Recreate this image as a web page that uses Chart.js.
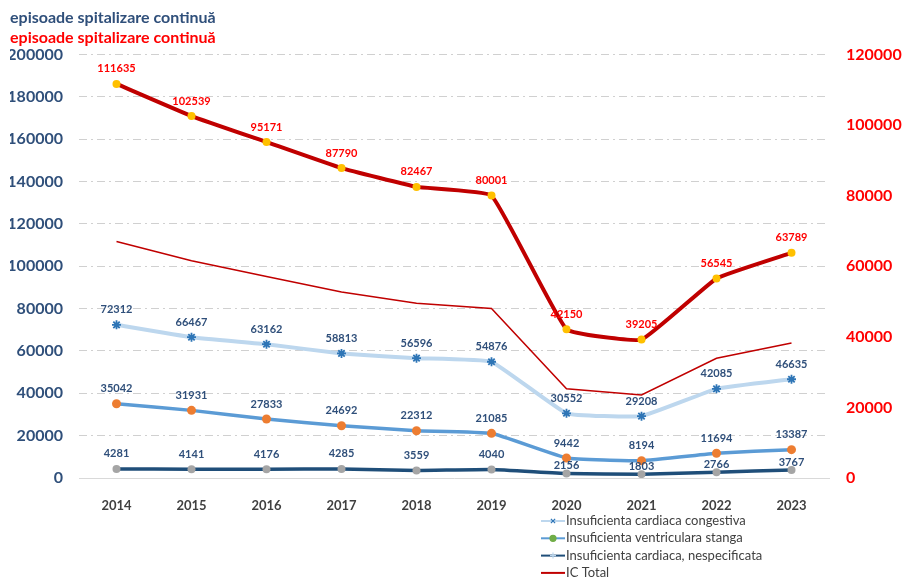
<!DOCTYPE html>
<html>
<head>
<meta charset="utf-8">
<script src="https://cdn.jsdelivr.net/npm/chart.js@4.4.1/dist/chart.umd.min.js"></script>
<style>
  html, body { margin: 0; padding: 0; background: #fff; }
  #wrap { width: 910px; height: 579px; position: relative; }
</style>
</head>
<body>
<div id="wrap"><canvas id="myChart"></canvas></div>
<script>
const years = ['2014', '2015', '2016', '2017', '2018', '2019', '2020', '2021', '2022', '2023'];
const congestiva = [72312, 66467, 63162, 58813, 56596, 54876, 30552, 29208, 42085, 46635];
const ventriculara = [35042, 31931, 27833, 24692, 22312, 21085, 9442, 8194, 11694, 13387];
const nespecificata = [4281, 4141, 4176, 4285, 3559, 4040, 2156, 1803, 2766, 3767];
const icTotal = [111635, 102539, 95171, 87790, 82467, 80001, 42150, 39205, 56545, 63789];
const seriesNames = [
  'Insuficienta cardiaca congestiva',
  'Insuficienta ventriculara stanga',
  'Insuficienta cardiaca, nespecificata',
  'IC Total'
];

const FONT = 'Lato, "Liberation Sans", sans-serif';

// value labels above the points
const pointLabels = {
  id: 'pointLabels',
  afterDatasetsDraw(chart) {
    const ctx = chart.ctx;
    ctx.save();
    ctx.textAlign = 'center';
    ctx.textBaseline = 'middle';
    chart.data.datasets.forEach((ds, i) => {
      if (!ds.showValues) return;
      const meta = chart.getDatasetMeta(i);
      ctx.font = 'bold 11px ' + FONT;
      ctx.fillStyle = ds.valueColor;
      meta.data.forEach((pt, j) => {
        const off = ds.labelGap ? ds.labelGap[j] : 15;
        ctx.fillText(String(ds.data[j]), pt.x, pt.y - off);
      });
    });
    ctx.restore();
  }
};

// legend stacked at the bottom right
const stackLegend = {
  id: 'stackLegend',
  afterDraw(chart) {
    const ctx = chart.ctx;
    const items = [
      { color: '#bdd7ee', mark: '#2e75b6', style: 'crossRot' },
      { color: '#5b9bd5', mark: '#70ad47', style: 'circle' },
      { color: '#1f4e79', mark: '#bdd7ee', style: 'cross' },
      { color: '#c00000', mark: null, style: null }
    ];
    ctx.save();
    items.forEach((it, i) => {
      const y = 521 + i * 17.3;
      ctx.strokeStyle = it.color;
      ctx.lineWidth = 2;
      ctx.beginPath();
      ctx.moveTo(541, y);
      ctx.lineTo(565, y);
      ctx.stroke();
      if (it.mark) {
        ctx.fillStyle = it.mark;
        ctx.strokeStyle = it.mark;
        ctx.lineWidth = 1.2;
        Chart.helpers.drawPoint(ctx, {
          pointStyle: it.style, radius: 3, borderWidth: 1.2, rotation: 0
        }, 553, y);
      }
      ctx.font = '13px ' + FONT;
      ctx.fillStyle = '#404040';
      ctx.textAlign = 'left';
      ctx.textBaseline = 'middle';
      ctx.fillText(seriesNames[i], 566, y);
    });
    ctx.restore();
  }
};

const data = {
  labels: years,
  datasets: [
    {
      label: seriesNames[0],
      data: congestiva,
      yAxisID: 'y',
      borderColor: '#bdd7ee',
      borderWidth: 4,
      pointStyle: 'star',
      pointRadius: 4.5,
      pointBorderWidth: 1.8,
      pointBorderColor: '#2e75b6',
      pointBackgroundColor: '#2e75b6',
      tension: 0.1,
      showValues: true,
      valueColor: '#2f4f7a'
    },
    {
      label: seriesNames[1],
      data: ventriculara,
      yAxisID: 'y',
      borderColor: '#5b9bd5',
      borderWidth: 3.5,
      pointStyle: 'circle',
      pointRadius: 4.5,
      pointBorderWidth: 0,
      pointBackgroundColor: '#ed7d31',
      tension: 0.1,
      showValues: true,
      valueColor: '#2f4f7a'
    },
    {
      label: seriesNames[2],
      data: nespecificata,
      yAxisID: 'y',
      borderColor: '#1f4e79',
      borderWidth: 3.5,
      pointStyle: 'circle',
      pointRadius: 4,
      pointBorderWidth: 0,
      pointBackgroundColor: '#a5a5a5',
      tension: 0.1,
      showValues: true,
      labelGap: [15, 15, 15, 15, 15, 15, 8, 8, 8, 8],
      valueColor: '#2f4f7a'
    },
    {
      label: 'IC Total (axa stanga)',
      data: icTotal,
      yAxisID: 'y',
      borderColor: '#c00000',
      borderWidth: 1.5,
      pointRadius: 0,
      tension: 0,
      showValues: false
    },
    {
      label: seriesNames[3],
      data: icTotal,
      yAxisID: 'y1',
      borderColor: '#c00000',
      borderWidth: 4,
      pointStyle: 'circle',
      pointRadius: 4,
      pointBorderWidth: 0,
      pointBackgroundColor: '#ffc000',
      tension: 0.1,
      showValues: true,
      valueColor: '#ff0000'
    }
  ]
};

const config = {
  type: 'line',
  data: data,
  options: {
    responsive: false,
    animation: false,
    layout: { padding: { left: 10, right: 0, top: 0, bottom: 0 } },
    plugins: {
      legend: { display: false },
      tooltip: { enabled: false },
      title: {
        display: true,
        text: 'episoade spitalizare continuă',
        align: 'start',
        color: '#2f4f7a',
        font: { family: FONT, size: 16, weight: 'bold' },
        padding: { top: 8, bottom: 1 }
      },
      subtitle: {
        display: true,
        text: 'episoade spitalizare continuă',
        align: 'start',
        color: '#ff0000',
        font: { family: FONT, size: 16, weight: 'bold' },
        padding: { top: 0, bottom: 7 }
      }
    },
    scales: {
      x: {
        offset: true,
        grid: { display: false },
        border: { display: true, color: '#d9d9d9', width: 1 },
        ticks: {
          color: '#404040',
          padding: 12,
          font: { family: FONT, size: 13, weight: 'bold' }
        },
        afterFit: s => { s.height = 101; }
      },
      y: {
        position: 'left',
        min: 0,
        max: 200000,
        grid: { color: '#d0d0d0', lineWidth: 1, drawTicks: false },
        border: { display: false, dash: [8, 4, 2, 4] },
        ticks: {
          stepSize: 20000,
          color: '#2f4f7a',
          padding: 16,
          font: { family: FONT, size: 16, weight: 'bold' },
          callback: v => String(v)
        },
        afterFit: s => { s.width = 69; }
      },
      y1: {
        position: 'right',
        min: 0,
        max: 120000,
        grid: { drawOnChartArea: false, drawTicks: false },
        border: { display: false },
        ticks: {
          stepSize: 20000,
          color: '#ff0000',
          padding: 17,
          font: { family: FONT, size: 16, weight: 'bold' },
          callback: v => String(v)
        },
        afterFit: s => { s.width = 81; }
      }
    }
  },
  plugins: [pointLabels, stackLegend]
};

const canvas = document.getElementById('myChart');
canvas.width = 910;
canvas.height = 579;
const myChart = new Chart(canvas, config);
</script>
</body>
</html>
